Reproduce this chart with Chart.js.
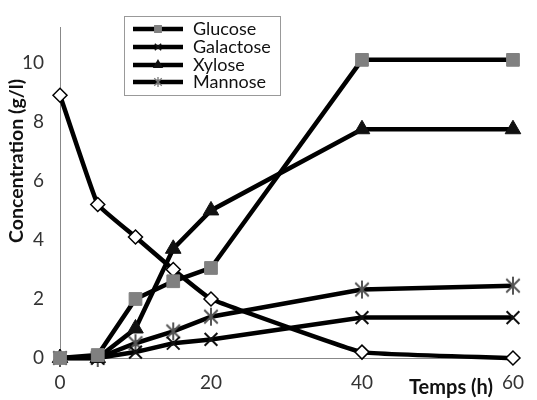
<!DOCTYPE html>
<html><head><meta charset="utf-8">
<script src="https://cdn.jsdelivr.net/npm/chart.js@4"></script>
<style>html,body{margin:0;padding:0;background:#fff}#w{width:537px;height:400px;position:relative}</style>
</head><body><div id="w"><canvas id="c" width="537" height="400"></canvas></div>
<script>
const hours = [0, 5, 10, 15, 20, 40, 60];
const glucose = [0, 0.1, 2.0, 2.6, 3.05, 10.1, 10.1];
const galactose = [0, 0, 0.2, 0.5, 0.63, 1.37, 1.37];
const xylose = [0, 0, 1.0, 3.7, 5.0, 7.75, 7.75];
const mannose = [0, 0, 0.5, 0.9, 1.4, 2.32, 2.45];
const fifthSeries = [8.9, 5.2, 4.1, 3.0, 2.0, 0.2, 0.0];
const yTicks = [0, 2, 4, 6, 8, 10];
const xTicks = [0, 20, 40, 60];
const legendNames = ['Glucose', 'Galactose', 'Xylose', 'Mannose'];
const xTitle = 'Temps (h)';
const yTitle = 'Concentration (g/l)';

const FONT = 'Lato, "Open Sans", sans-serif';
const pts = arr => hours.map((h, i) => ({x: h, y: arr[i]}));

function asterisk(r, lw, color) {
  const c = document.createElement('canvas');
  const s = Math.ceil(2 * r + lw + 2);
  c.width = s; c.height = s;
  const g = c.getContext('2d');
  g.strokeStyle = color; g.lineWidth = lw;
  const m = s / 2;
  const d = r * 0.75;
  g.beginPath();
  g.moveTo(m, m - r); g.lineTo(m, m + r);
  g.moveTo(m - d, m - d); g.lineTo(m + d, m + d);
  g.moveTo(m + d, m - d); g.lineTo(m - d, m + d);
  g.stroke();
  return c;
}
const starBig = asterisk(9, 2, '#555');
const starSmall = asterisk(5, 1.3, '#777');

const datasets = [
  {label: legendNames[0], data: pts(glucose), borderColor: '#000', borderWidth: 4.5,
   pointStyle: 'rect', pointRadius: 9, pointBackgroundColor: '#808080', pointBorderColor: '#808080', pointBorderWidth: 1},
  {label: legendNames[1], data: pts(galactose), borderColor: '#000', borderWidth: 4.5,
   pointStyle: 'crossRot', pointRadius: 9, pointBorderColor: '#111', pointBorderWidth: 2},
  {label: legendNames[2], data: pts(xylose), borderColor: '#000', borderWidth: 4.5,
   pointStyle: 'triangle', pointRadius: 9, pointBackgroundColor: '#111', pointBorderColor: '#111', pointBorderWidth: 1},
  {label: legendNames[3], data: pts(mannose), borderColor: '#000', borderWidth: 4.5,
   pointStyle: starBig, pointRadius: 9, legendStyle: starSmall},
  {label: '', data: pts(fifthSeries), borderColor: '#000', borderWidth: 4.5,
   pointStyle: 'rectRot', pointRadius: 7, pointBackgroundColor: '#fff', pointBorderColor: '#000', pointBorderWidth: 1.5, tension: 0.08}
];

const decor = {
  id: 'decor',
  afterDraw(chart) {
    const ctx = chart.ctx;
    ctx.save();
    ctx.fillStyle = '#111';
    ctx.font = 'bold 19.5px ' + FONT;
    ctx.translate(17, 161);
    ctx.rotate(-Math.PI / 2);
    ctx.textAlign = 'center';
    ctx.textBaseline = 'middle';
    ctx.fillText(yTitle, 0, 0);
    ctx.restore();
    ctx.save();
    ctx.fillStyle = '#111';
    ctx.font = 'bold 20px ' + FONT;
    ctx.textAlign = 'center';
    ctx.textBaseline = 'middle';
    ctx.fillText(xTitle, 451, 388);
    // legend
    const bx = 124, by = 16, bw = 156, bh = 79;
    ctx.fillStyle = '#fff';
    ctx.fillRect(bx, by, bw, bh);
    ctx.strokeStyle = '#999';
    ctx.lineWidth = 1;
    ctx.strokeRect(bx + 0.5, by + 0.5, bw, bh);
    const rows = [29, 47, 65, 82];
    for (let i = 0; i < 4; i++) {
      const ds = chart.data.datasets[i];
      const y = rows[i];
      ctx.strokeStyle = '#000';
      ctx.lineWidth = 4.5;
      ctx.lineCap = 'butt';
      ctx.beginPath(); ctx.moveTo(133, y); ctx.lineTo(183, y); ctx.stroke();
      ctx.fillStyle = ds.pointBackgroundColor || 'rgba(0,0,0,0)';
      ctx.strokeStyle = ds.pointBorderColor || '#555';
      ctx.lineWidth = 1.5;
      Chart.helpers.drawPoint(ctx, {pointStyle: ds.legendStyle || ds.pointStyle, radius: 4.5, rotation: 0, borderWidth: 1.5}, 158, y);
      ctx.fillStyle = '#111';
      ctx.font = '18px ' + FONT;
      ctx.textAlign = 'left';
      ctx.textBaseline = 'middle';
      ctx.fillText(ds.label, 193, y);
    }
    ctx.restore();
  }
};

new Chart(document.getElementById('c'), {
  type: 'line',
  data: {datasets},
  options: {
    responsive: false,
    animation: false,
    layout: {padding: {left: 0, right: 17, top: 5, bottom: 0}},
    datasets: {line: {clip: false, tension: 0}},
    plugins: {legend: {display: false}, tooltip: {enabled: false}},
    scales: {
      x: {
        type: 'linear', min: 0, max: 60,
        afterBuildTicks: s => { s.ticks = xTicks.map(v => ({value: v})); },
        grid: {display: false, drawTicks: false},
        border: {display: true, color: '#888', width: 1},
        ticks: {color: '#333', font: {size: 19, family: FONT}, padding: 13, maxRotation: 0},
        afterFit: s => { s.height = 42; }
      },
      y: {
        min: 0, max: 11.2,
        afterBuildTicks: s => { s.ticks = yTicks.map(v => ({value: v})); },
        grid: {display: false, drawTicks: false},
        border: {display: true, color: '#888', width: 1},
        ticks: {color: '#333', font: {size: 19, family: FONT}, padding: 16},
        afterFit: s => { s.width = 60; }
      }
    }
  },
  plugins: [decor]
});
</script></body></html>
